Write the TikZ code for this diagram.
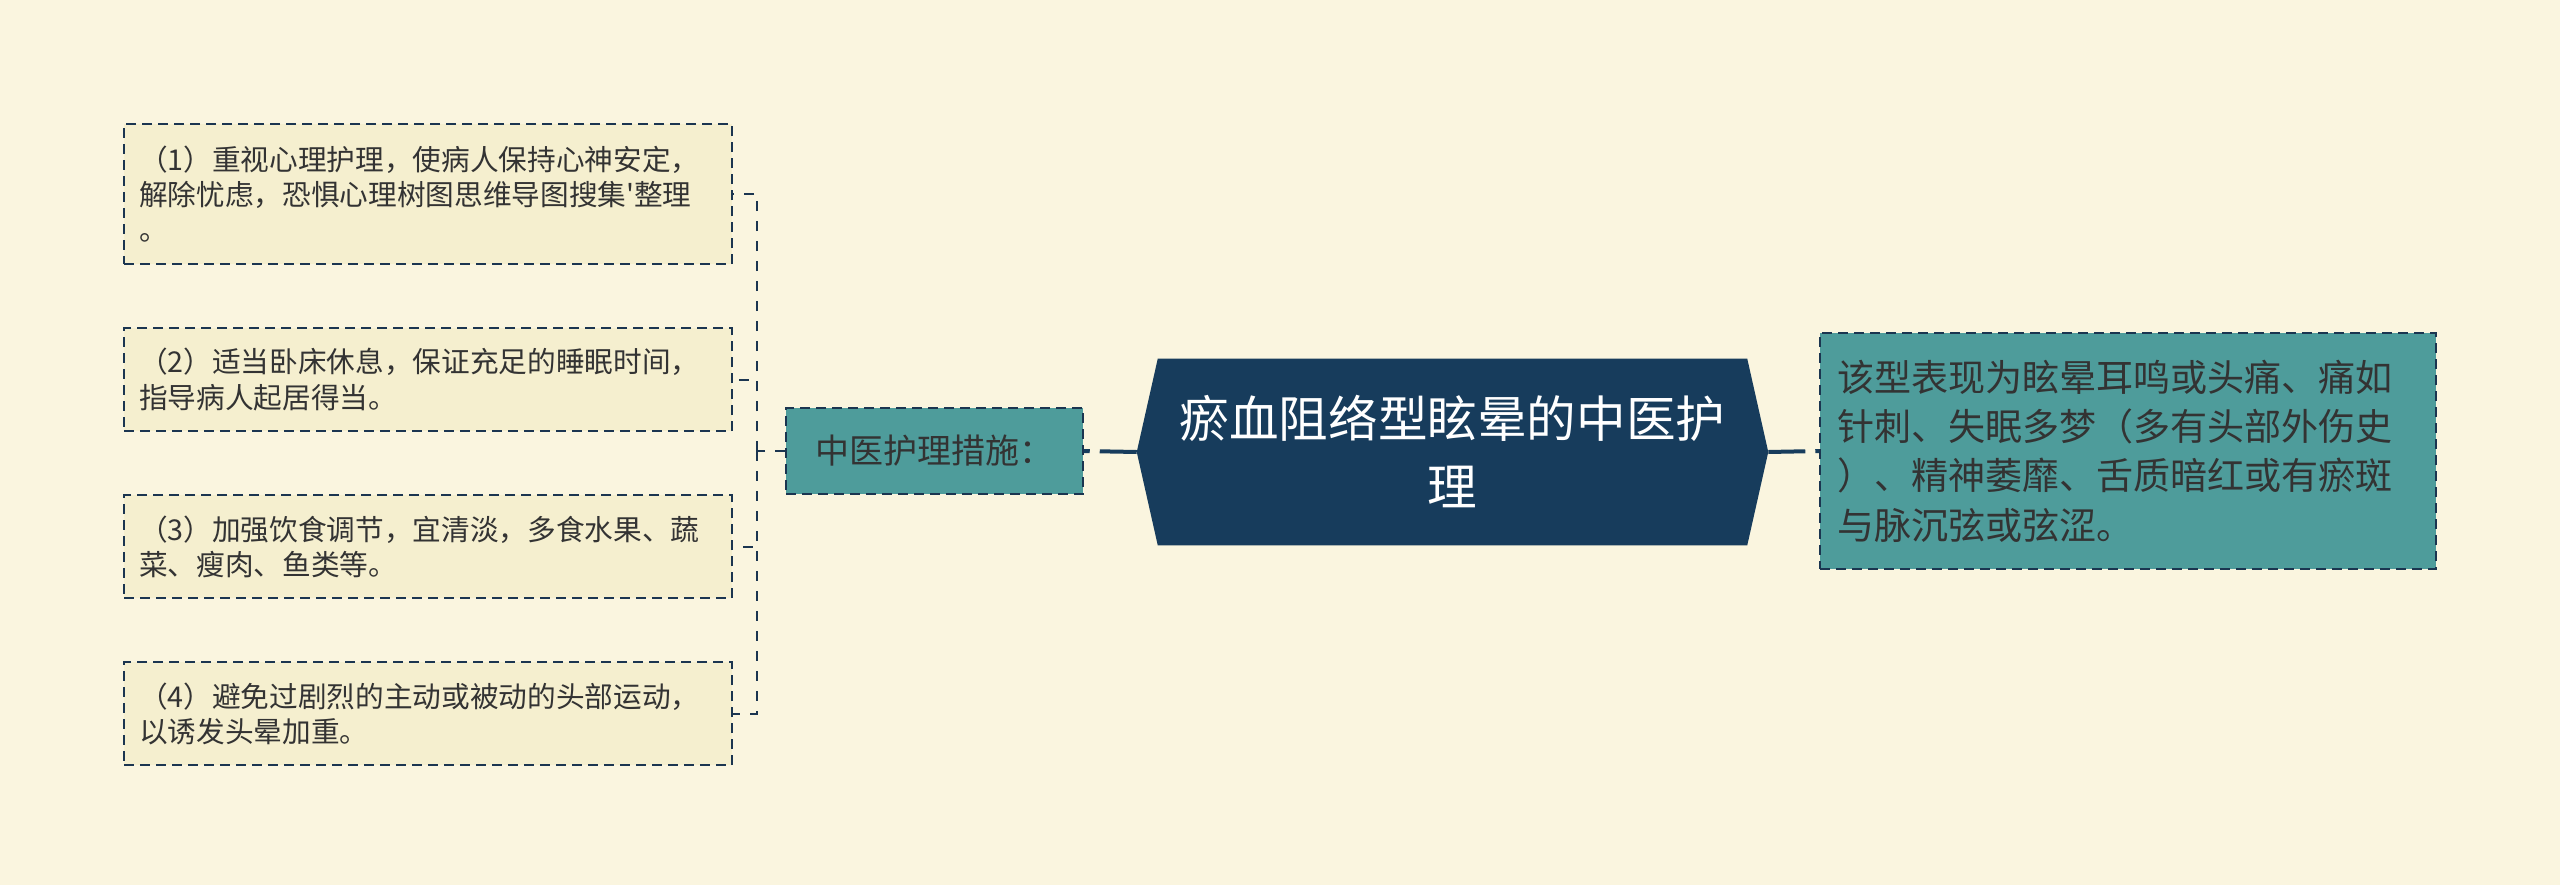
\documentclass[tikz,border=0pt]{standalone}
\usepackage{fontspec}
\setmainfont{Noto Sans CJK SC}[Ligatures=TeXOff]
\usepackage{tikz}
\usetikzlibrary{calc,positioning,backgrounds}
\definecolor{paper}{HTML}{FAF5DF}
\definecolor{notefill}{HTML}{F5EFCF}
\definecolor{tealbox}{HTML}{4E9C9B}
\definecolor{rootnavy}{HTML}{173C5C}
\definecolor{inkline}{HTML}{1B3550}
\definecolor{txt}{HTML}{333333}
\tikzset{%
	note/.style     = {draw=inkline, line width=1.5pt, dash pattern=on 7.5pt off 4.5pt, fill=notefill, text=txt, align=left, text width=433.5pt, inner xsep=11.25pt, inner ysep=0pt, minimum height=77.25pt, font=\fontsize{21.5pt}{26.3pt}\selectfont}, % Leaf
	branch/.style   = {draw=inkline, line width=1.5pt, dash pattern=on 7.5pt off 4.5pt, fill=tealbox, text=txt, align=center, minimum width=222.75pt, minimum height=64.5pt, font=\fontsize{25.5pt}{30pt}\selectfont}, % Branch
	detail/.style   = {draw=inkline, line width=1.5pt, dash pattern=on 7.5pt off 4.5pt, fill=tealbox, text=txt, align=left, text width=436.5pt, inner xsep=12.75pt, inner ysep=0pt, minimum height=177pt, font=\fontsize{27.8pt}{37pt}\selectfont}, % Detail
	root/.style     = {rectangle, text=white, align=center, minimum width=441.75pt, minimum height=139.5pt, font=\fontsize{37.2pt}{51pt}\selectfont}, % Root
	link/.style     = {draw=inkline, line width=1.5pt, dash pattern=on 7.5pt off 7.5pt},
	trunk/.style    = {draw=rootnavy, line width=3pt, dash pattern=on 27.75pt off 7.5pt},
}
\begin{document}
\begin{tikzpicture}[x=0.75pt,y=-0.75pt,node distance=46.5pt]
	\useasboundingbox (0,0) rectangle (2560,885);
	\node [root] (root) at (1452.5,452) {瘀血阻络型眩晕的中医护\\理};
	\node [branch] (mid) at (934.5,451) {中医护理措施：};
	\node [detail] (info) at (2128,451) {该型表现为眩晕耳鸣或头痛、痛如\\针刺、失眠多梦（多有头部外伤史\\）、精神萎靡、舌质暗红或有瘀斑\\与脉沉弦或弦涩。};
	\node [note,minimum height=105pt] (note1) at (428,194) {（1）重视心理护理，使病人保持心神安定，\\解除忧虑，恐惧心理树图思维导图搜集'整理\\。};
	\node [note] (note2) [below=of note1] {（2）适当卧床休息，保证充足的睡眠时间，\\指导病人起居得当。};
	\node [note] (note3) [below=of note2] {（3）加强饮食调节，宜清淡，多食水果、蔬\\菜、瘦肉、鱼类等。};
	\node [note] (note4) [below=of note3] {（4）避免过剧烈的主动或被动的头部运动，\\以诱发头晕加重。};
	\coordinate (tipl) at ($(root.west)+(-21,0)$);
	\coordinate (tipr) at ($(root.east)+(21,0)$);
	\coordinate (fork) at ($(mid.west)+(-28,0)$);
	
	\begin{scope}[on background layer]
		\fill [paper] (0,0) rectangle (2560,885);
		\fill [rootnavy] (root.north west) -- (root.north east) -- (tipr) -- (root.south east) -- (root.south west) -- (tipl) -- cycle;
	\end{scope}
	
	\draw [trunk] (tipl) -- (mid.east);
	\draw [trunk] (tipr) -- (info.west);
	\draw [link] (mid.west) -- (fork);
	\foreach \n in {1,...,4}
		\draw [link] (fork) |- (note\n.east);
\end{tikzpicture}
\end{document}
